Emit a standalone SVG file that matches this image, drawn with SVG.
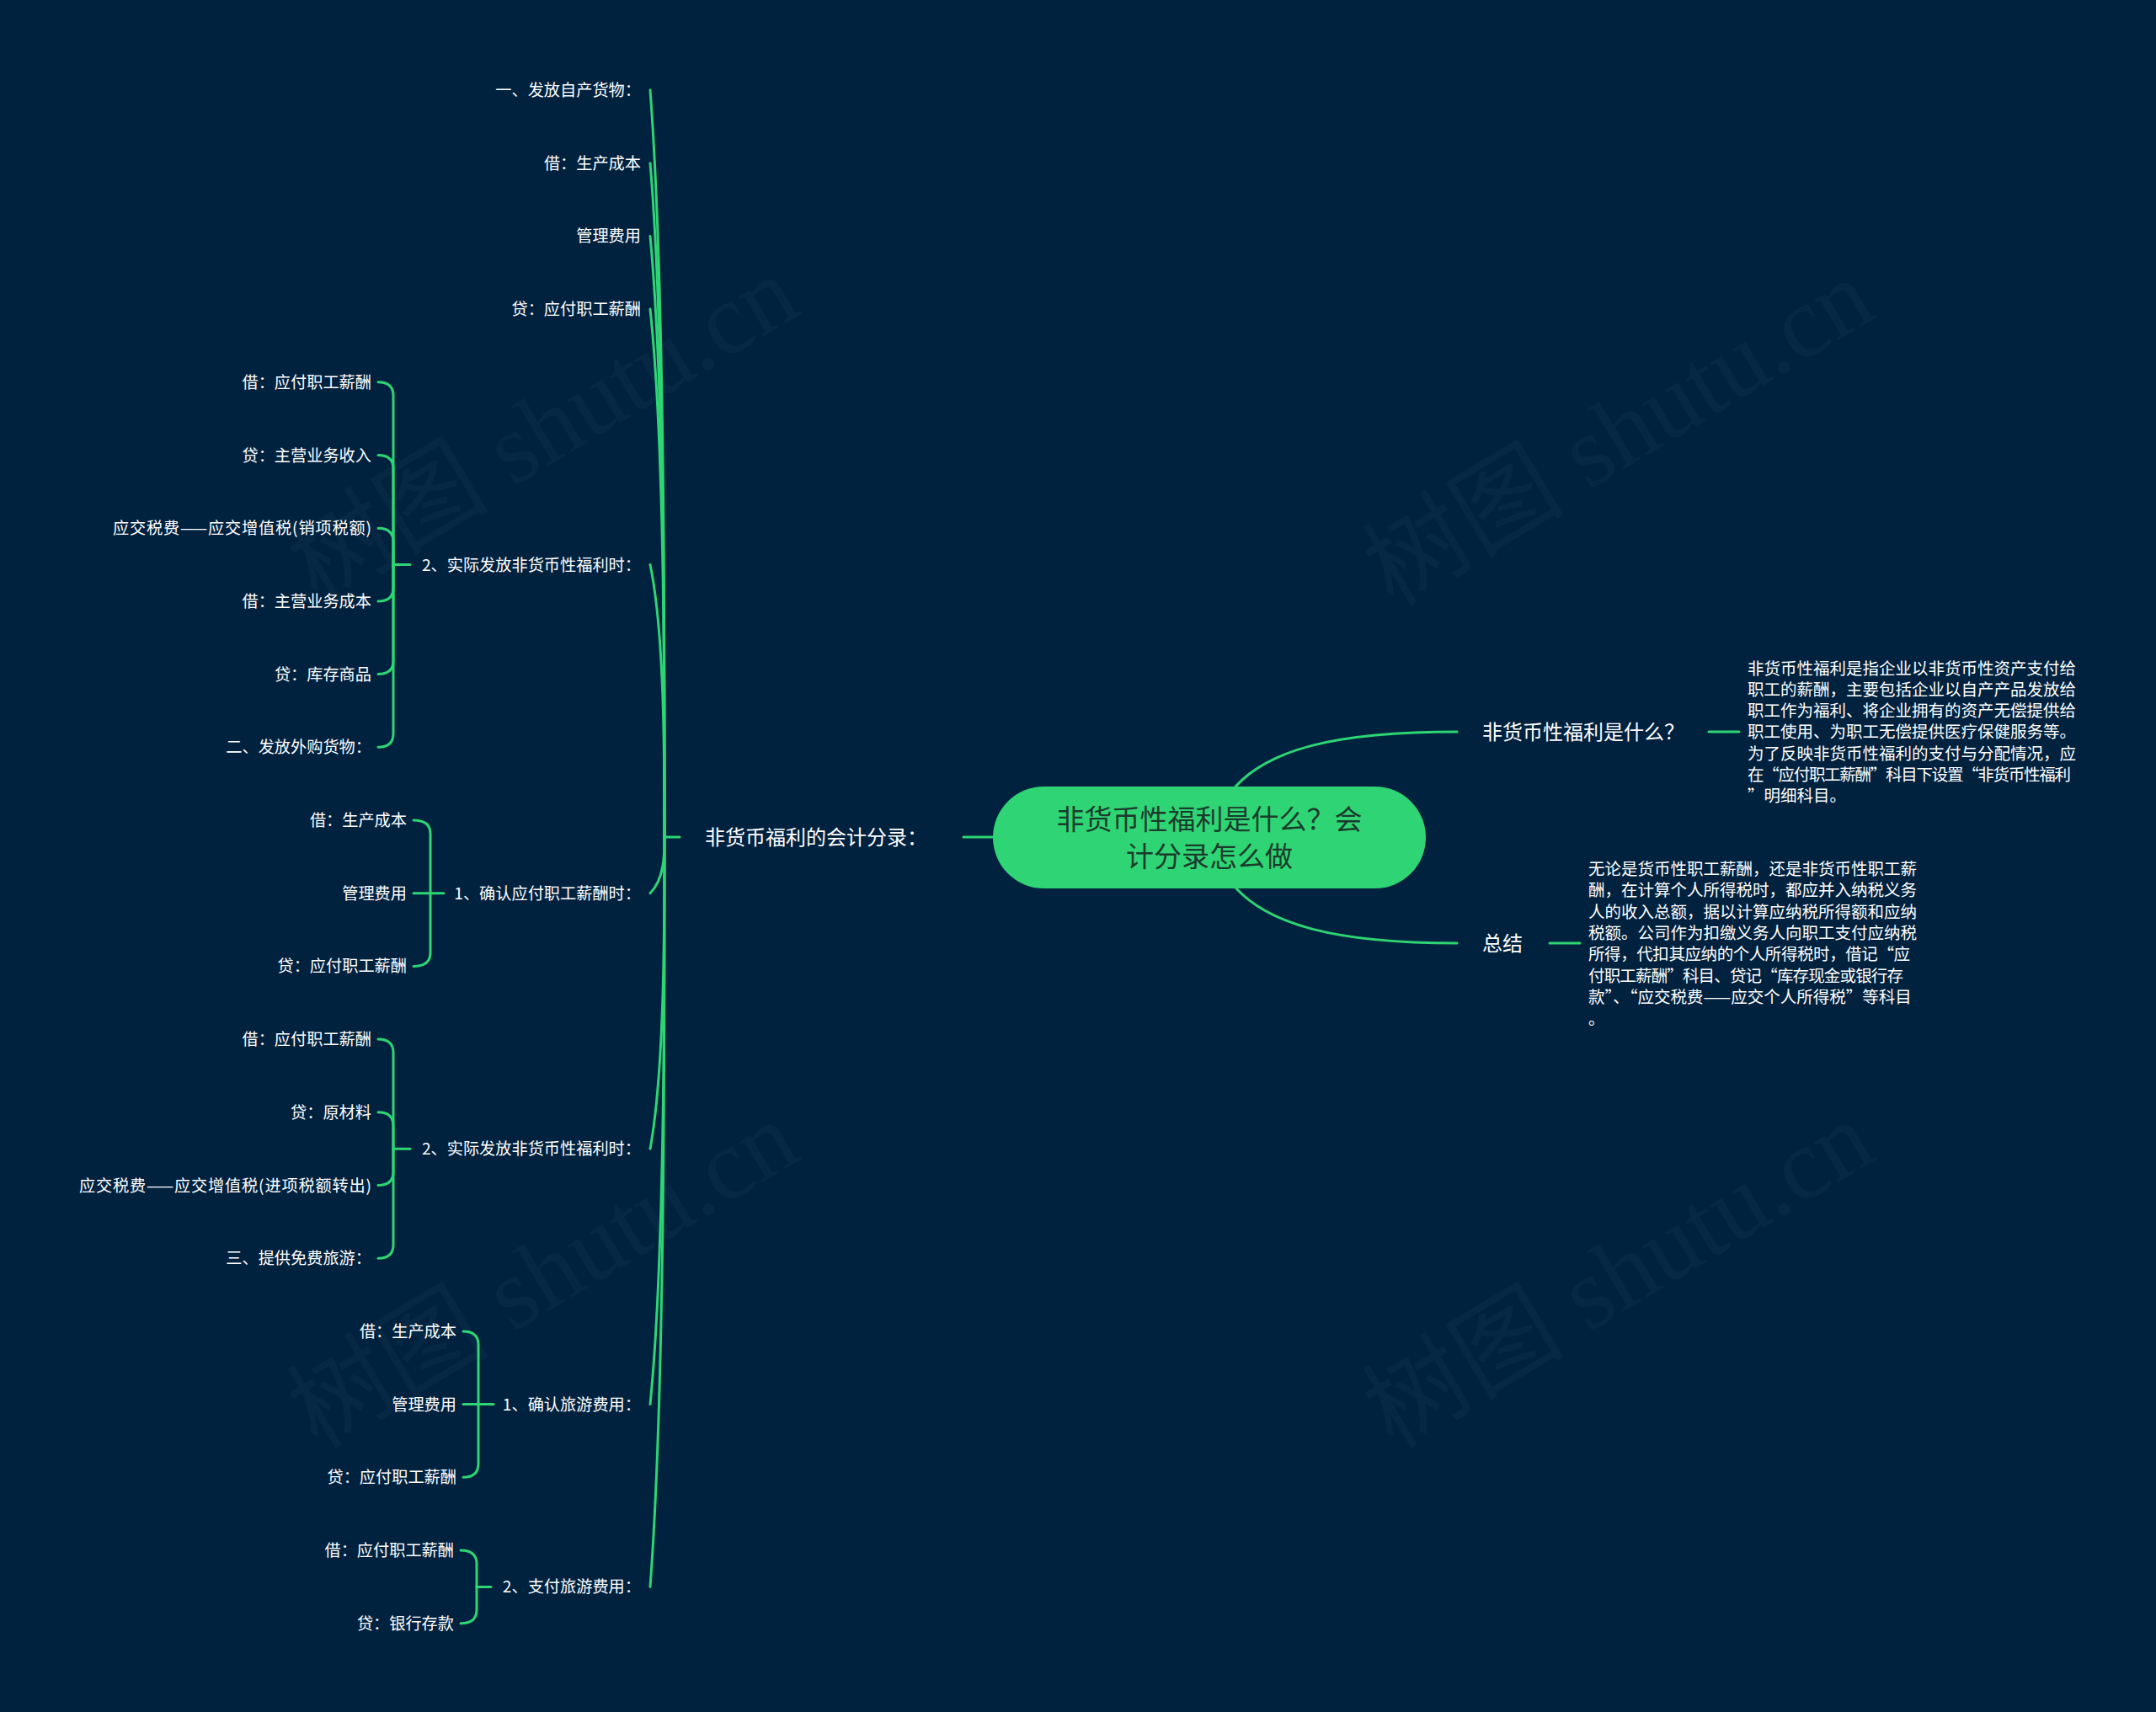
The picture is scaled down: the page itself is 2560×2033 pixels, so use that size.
<svg xmlns="http://www.w3.org/2000/svg" width="2560" height="2033" viewBox="0 0 2560 2033">
<style>
.t{font-family:"Noto Sans CJK SC","Noto Sans",sans-serif;fill:#ffffff}
.leaf{font-size:19.2px;text-anchor:end}
.l2{font-size:19.2px;text-anchor:end}
.l1{font-size:24px}
.desc{font-size:19.5px}
.c{fill:none;stroke:#2ed573;stroke-width:3;stroke-linecap:round;stroke-linejoin:round}
.wm{font-family:"Liberation Serif","Noto Sans CJK SC",serif;font-size:120px;fill:#ffffff;opacity:0.025;text-anchor:middle}
</style>
<rect width="2560" height="2033" fill="#01223f"/>
<g id="watermarks">
<text class="wm" x="645" y="550" transform="rotate(-31 645 510)">树图 shutu.cn</text>
<text class="wm" x="1922" y="554" transform="rotate(-31 1922 514)">树图 shutu.cn</text>
<text class="wm" x="645" y="1554" transform="rotate(-31 645 1514)">树图 shutu.cn</text>
<text class="wm" x="1922" y="1554" transform="rotate(-31 1922 1514)">树图 shutu.cn</text>
</g>
<g id="connectors">
<path class="c" d="M1455 950 C1495 885 1600 869 1730 869"/>
<path class="c" d="M1455 1038 C1495 1103 1600 1120 1730 1120"/>
<path class="c" d="M2029 869 H2065"/>
<path class="c" d="M1840 1120 H1876"/>
<path class="c" d="M1144 994 H1185"/>
<path class="c" d="M789 994 H807"/>
<path class="c" d="M789 994 C789 727.9 789 328.8 772 107"/>
<path class="c" d="M789 994 C789 753.9 789 393.8 772 193.7"/>
<path class="c" d="M789 994 C789 779.9 789 458.8 772 280.4"/>
<path class="c" d="M789 994 C789 805.9 789 523.8 772 367.1"/>
<path class="c" d="M789 994 C789 897 789 751.4 772 670.5"/>
<path class="c" d="M789 994 C789 1014 789 1044 772 1060.7"/>
<path class="c" d="M789 994 C789 1105.1 789 1271.6 772 1364.2"/>
<path class="c" d="M789 994 C789 1196.1 789 1499.2 772 1667.6"/>
<path class="c" d="M789 994 C789 1261.1 789 1661.8 772 1884.4"/>
<path class="c" d="M467 670.5 H487"/>
<path class="c" d="M449 453.8 Q467 453.8 467 469.8 L467 670.5"/>
<path class="c" d="M449 540.5 Q467 540.5 467 556.5 L467 670.5"/>
<path class="c" d="M449 627.2 Q467 627.2 467 643.2 L467 670.5"/>
<path class="c" d="M449 713.9 Q467 713.9 467 697.9 L467 670.5"/>
<path class="c" d="M449 800.6 Q467 800.6 467 784.6 L467 670.5"/>
<path class="c" d="M449 887.3 Q467 887.3 467 871.3 L467 670.5"/>
<path class="c" d="M491 1060.7 H527"/>
<path class="c" d="M491 974 Q511 974 511 990 L511 1060.7"/>
<path class="c" d="M491 1147.4 Q511 1147.4 511 1131.4 L511 1060.7"/>
<path class="c" d="M467 1364.2 H487"/>
<path class="c" d="M449 1234.1 Q467 1234.1 467 1250.1 L467 1364.2"/>
<path class="c" d="M449 1320.8 Q467 1320.8 467 1336.8 L467 1364.2"/>
<path class="c" d="M449 1407.5 Q467 1407.5 467 1391.5 L467 1364.2"/>
<path class="c" d="M449 1494.2 Q467 1494.2 467 1478.2 L467 1364.2"/>
<path class="c" d="M550 1667.6 H586"/>
<path class="c" d="M550 1580.9 Q568 1580.9 568 1596.9 L568 1667.6"/>
<path class="c" d="M550 1754.3 Q568 1754.3 568 1738.3 L568 1667.6"/>
<path class="c" d="M566 1884.4 H583"/>
<path class="c" d="M547 1841 Q566 1841 566 1857 L566 1884.4"/>
<path class="c" d="M547 1927.7 Q566 1927.7 566 1911.7 L566 1884.4"/>
</g>
<g id="root">
<rect x="1179" y="934" width="514" height="121" rx="60.5" fill="#2fd574"/>
<text class="t" x="1436" y="985" font-size="33" text-anchor="middle" style="fill:#1b3b2c">非货币性福利是什么？会</text>
<text class="t" x="1436" y="1029" font-size="33" text-anchor="middle" style="fill:#1b3b2c">计分录怎么做</text>
</g>
<g id="n-what">
<text class="t l1" x="1760" y="878">非货币性福利是什么？</text>
</g>
<g id="n-what-desc">
<text class="t desc" x="2075" y="800.5">非货币性福利是指企业以非货币性资产支付给</text>
<text class="t desc" x="2075" y="825.8">职工的薪酬，主要包括企业以自产产品发放给</text>
<text class="t desc" x="2075" y="851.1">职工作为福利、将企业拥有的资产无偿提供给</text>
<text class="t desc" x="2075" y="876.4">职工使用、为职工无偿提供医疗保健服务等。</text>
<text class="t desc" x="2075" y="901.7">为了反映非货币性福利的支付与分配情况，应</text>
<text class="t desc" x="2075" y="927" textLength="384" lengthAdjust="spacing">在“应付职工薪酬”科目下设置“非货币性福利</text>
<text class="t desc" x="2075" y="952.3">”明细科目。</text>
</g>
<g id="n-summary">
<text class="t l1" x="1760" y="1129">总结</text>
</g>
<g id="n-summary-desc">
<text class="t desc" x="1886" y="1039">无论是货币性职工薪酬，还是非货币性职工薪</text>
<text class="t desc" x="1886" y="1064.3">酬，在计算个人所得税时，都应并入纳税义务</text>
<text class="t desc" x="1886" y="1089.6">人的收入总额，据以计算应纳税所得额和应纳</text>
<text class="t desc" x="1886" y="1114.9">税额。公司作为扣缴义务人向职工支付应纳税</text>
<text class="t desc" x="1886" y="1140.2" textLength="382" lengthAdjust="spacing">所得，代扣其应纳的个人所得税时，借记“应</text>
<text class="t desc" x="1886" y="1165.5" textLength="374" lengthAdjust="spacing">付职工薪酬”科目、贷记“库存现金或银行存</text>
<text class="t desc" x="1886" y="1190.8">款”、“应交税费——应交个人所得税”等科目</text>
<text class="t desc" x="1886" y="1217">。</text>
</g>
<g id="n-entries">
<text class="t l1" x="837" y="1003">非货币福利的会计分录：</text>
</g>
<g id="n-k0"><text class="t l2" x="761" y="114">一、发放自产货物：</text></g>
<g id="n-k1"><text class="t l2" x="761" y="200.7">借：生产成本</text></g>
<g id="n-k2"><text class="t l2" x="761" y="287.4">管理费用</text></g>
<g id="n-k3"><text class="t l2" x="761" y="374.1">贷：应付职工薪酬</text></g>
<g id="n-a"><text class="t l2" x="761" y="677.5">2、实际发放非货币性福利时：</text></g>
<g id="n-a1"><text class="t leaf" x="441" y="460.8">借：应付职工薪酬</text></g>
<g id="n-a2"><text class="t leaf" x="441" y="547.5">贷：主营业务收入</text></g>
<g id="n-a3"><text class="t leaf" x="441" y="634.2" textLength="307" lengthAdjust="spacing">应交税费——应交增值税(销项税额)</text></g>
<g id="n-a4"><text class="t leaf" x="441" y="720.9">借：主营业务成本</text></g>
<g id="n-a5"><text class="t leaf" x="441" y="807.6">贷：库存商品</text></g>
<g id="n-a6"><text class="t leaf" x="441" y="894.3">二、发放外购货物：</text></g>
<g id="n-b"><text class="t l2" x="761" y="1067.7">1、确认应付职工薪酬时：</text></g>
<g id="n-b1"><text class="t leaf" x="483" y="981">借：生产成本</text></g>
<g id="n-b2"><text class="t leaf" x="483" y="1067.7">管理费用</text></g>
<g id="n-b3"><text class="t leaf" x="483" y="1154.4">贷：应付职工薪酬</text></g>
<g id="n-c"><text class="t l2" x="761" y="1371.2">2、实际发放非货币性福利时：</text></g>
<g id="n-c1"><text class="t leaf" x="441" y="1241.1">借：应付职工薪酬</text></g>
<g id="n-c2"><text class="t leaf" x="441" y="1327.8">贷：原材料</text></g>
<g id="n-c3"><text class="t leaf" x="441" y="1414.5" textLength="347" lengthAdjust="spacing">应交税费——应交增值税(进项税额转出)</text></g>
<g id="n-c4"><text class="t leaf" x="441" y="1501.2">三、提供免费旅游：</text></g>
<g id="n-d"><text class="t l2" x="761" y="1674.6">1、确认旅游费用：</text></g>
<g id="n-d1"><text class="t leaf" x="542" y="1587.9">借：生产成本</text></g>
<g id="n-d2"><text class="t leaf" x="542" y="1674.6">管理费用</text></g>
<g id="n-d3"><text class="t leaf" x="542" y="1761.3">贷：应付职工薪酬</text></g>
<g id="n-e"><text class="t l2" x="761" y="1891.4">2、支付旅游费用：</text></g>
<g id="n-e1"><text class="t leaf" x="539" y="1848">借：应付职工薪酬</text></g>
<g id="n-e2"><text class="t leaf" x="539" y="1934.7">贷：银行存款</text></g>
</svg>
